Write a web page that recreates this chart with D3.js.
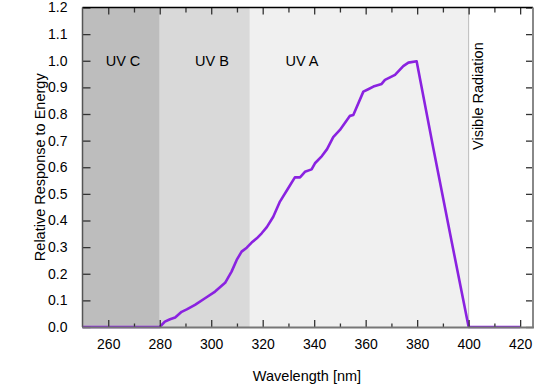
<!DOCTYPE html>
<html>
<head>
<meta charset="utf-8">
<script src="https://cdn.jsdelivr.net/npm/d3@7"></script>
<style>
body{margin:0;background:#fff;}
text{font-family:"Liberation Sans",Arial,sans-serif;fill:#000;}
</style>
</head>
<body>
<svg id="chart" width="550" height="391"></svg>
<script>
// Data
const bandNames = ["UV C","UV B","UV A"];
const bandStart = [250,280,315];
const bandEnd = [280,315,400];
const bandColors = ["#bdbdbd","#d9d9d9","#f0f0f0"];
const wavelength = [250,280,282,284,286,288.5,290.5,293.7,297.6,301.5,305.4,307.9,309.9,311.8,313.8,315.7,317.7,319.6,321.6,324.1,326.7,329.9,332.5,334.5,336.4,339,340.3,343,345,347.4,350,353.9,355.2,359.1,361,363,366.2,367.5,371.4,374.6,376.6,379.8,386.3,392.8,400,420];
const response = [0,0,0.02,0.029,0.036,0.057,0.066,0.083,0.108,0.133,0.166,0.208,0.252,0.283,0.298,0.317,0.333,0.352,0.375,0.414,0.471,0.521,0.562,0.562,0.583,0.592,0.615,0.642,0.668,0.713,0.740,0.793,0.796,0.884,0.893,0.903,0.913,0.928,0.947,0.980,0.993,0.998,0.67,0.35,0,0];
const xTicks = [260,280,300,320,340,360,380,400,420];
const xMinor = [270,290,310,330,350,370,390,410];
const yTicks = [0,0.1,0.2,0.3,0.4,0.5,0.6,0.7,0.8,0.9,1.0,1.1,1.2];

const svg = d3.select("#chart");
const L=82.5, R=533, T=7.5, B=327;
const x = d3.scaleLinear().domain([250,425]).range([L,R]);
const y = d3.scaleLinear().domain([0,1.2]).range([B,T]);

// bands
svg.selectAll("rect.band").data(bandNames).enter().append("rect")
  .attr("x",(d,i)=>x(bandStart[i])).attr("y",T)
  .attr("width",(d,i)=>x(bandEnd[i])-x(bandStart[i])).attr("height",B-T)
  .attr("fill",(d,i)=>bandColors[i]);
svg.append("line").attr("x1",x(400)).attr("x2",x(400)).attr("y1",T).attr("y2",B)
  .attr("stroke","#bbb").attr("stroke-width",1);

// band labels
svg.selectAll("text.band").data(bandNames).enter().append("text")
  .attr("x",(d,i)=>[123,212,302][i]).attr("y",66)
  .attr("text-anchor","middle").attr("font-size","14.5px").text(d=>d);
svg.append("text").attr("transform",`translate(483,150) rotate(-90)`)
  .attr("font-size","14.5px").text("Visible Radiation");

// line
const lineGen = d3.line().x((d,i)=>x(wavelength[i])).y((d,i)=>y(response[i]));
svg.append("path").datum(response).attr("d",lineGen).attr("fill","none")
  .attr("stroke","#8a22e0").attr("stroke-width",2.6).attr("stroke-linejoin","round");

// axes
svg.append("g").attr("transform",`translate(0,${B})`)
  .call(d3.axisBottom(x).tickValues(xTicks).tickSize(-7).tickPadding(12).tickFormat(d3.format("d")));
svg.append("g").attr("transform",`translate(0,${B})`)
  .call(d3.axisBottom(x).tickValues(xMinor).tickSize(-3.5).tickFormat(""));
svg.append("g").attr("transform",`translate(0,${T})`)
  .call(d3.axisTop(x).tickValues(xTicks).tickSize(-7).tickFormat(""));
svg.append("g").attr("transform",`translate(0,${T})`)
  .call(d3.axisTop(x).tickValues(xMinor).tickSize(-5).tickFormat(""));
svg.append("g").attr("transform",`translate(${L},0)`)
  .call(d3.axisLeft(y).tickValues(yTicks).tickSize(-8).tickPadding(15).tickFormat(d3.format(".1f")));
svg.append("g").attr("transform",`translate(${R},0)`)
  .call(d3.axisRight(y).tickValues(yTicks).tickSize(-7).tickFormat(""));

svg.selectAll(".domain").attr("stroke","none");
svg.selectAll(".tick line").attr("stroke","#333").attr("stroke-width",1.3);
svg.selectAll(".tick text").attr("font-size","14px").attr("font-family","Liberation Sans, Arial, sans-serif").attr("fill","#000");

// frame
svg.append("line").attr("x1",L).attr("x2",R).attr("y1",T).attr("y2",T).attr("stroke","#000").attr("stroke-width",1.5);
svg.append("line").attr("x1",L).attr("x2",L).attr("y1",T).attr("y2",B).attr("stroke","#555").attr("stroke-width",1.5);
svg.append("line").attr("x1",R).attr("x2",R).attr("y1",T).attr("y2",B+1).attr("stroke","#888").attr("stroke-width",2);
svg.append("line").attr("x1",L).attr("x2",R+1).attr("y1",B+0.5).attr("y2",B+0.5).attr("stroke","#777").attr("stroke-width",2);

// titles
svg.append("text").attr("x",307).attr("y",381).attr("text-anchor","middle").attr("font-size","14.5px").text("Wavelength [nm]");
svg.append("text").attr("transform",`translate(45,${(T+B)/2}) rotate(-90)`).attr("text-anchor","middle")
  .attr("font-size","14.5px").text("Relative Response to Energy");
</script>
</body>
</html>
